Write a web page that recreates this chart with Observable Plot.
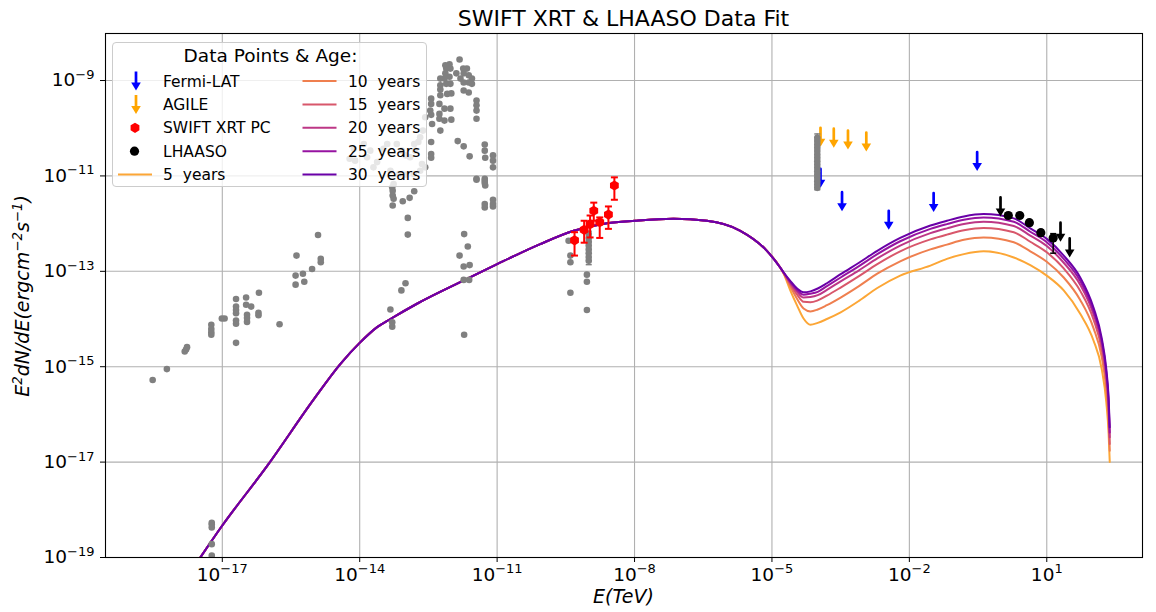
<!DOCTYPE html>
<html><head><meta charset="utf-8">
<script src="https://cdn.jsdelivr.net/npm/d3@7"></script>
<script src="https://cdn.jsdelivr.net/npm/@observablehq/plot@0.6"></script>
<style>
html,body{margin:0;padding:0;background:#fff;}
#chart{width:1156px;height:612px;}
</style></head><body><div id="chart"></div>
<script>
// ---------- data (log10 values) ----------
const xTicks = [1e-17, 1e-14, 1e-11, 1e-8, 1e-5, 1e-2, 1e1];
const yTicks = [1e-19, 1e-17, 1e-15, 1e-13, 1e-11, 1e-9];

const ages = [5, 10, 15, 20, 25, 30];
const ageColors = ["#fca636", "#ef7f4f", "#d8576b", "#bd3786", "#9613a1", "#6a00a8"];

// synchrotron part, shared by all ages
const syncLogE = [-17.6, -17.0, -16.02, -15.0, -14.42, -13.99, -13.62, -13.33, -12.75, -11.66, -11.0, -10.06, -9.33, -8.6, -7.99, -7.15, -6.42, -5.69, -5.11, -4.82];
const syncLogF = [-19.17, -18.33, -17.08, -15.68, -14.94, -14.49, -14.17, -14.0, -13.68, -13.16, -12.85, -12.43, -12.15, -11.99, -11.94, -11.90, -11.94, -12.15, -12.57, -12.92];

// inverse-Compton part, per age
const icLogE = [-4.74, -4.6, -4.45, -4.31, -4.16, -4.0, -3.8, -3.5, -3.1, -2.7, -2.2, -1.54, -1.18, -0.81, -0.38, 0.28, 0.64, 1.0, 1.37, 1.73, 2.02, 2.2, 2.3, 2.35, 2.375];
const ic5  = [-13.06, -13.40, -13.72, -13.99, -14.12, -14.08, -14.00, -13.86, -13.62, -13.35, -13.09, -12.88, -12.74, -12.64, -12.58, -12.71, -12.87, -13.09, -13.40, -13.89, -14.45, -15.05, -15.75, -16.40, -17.0];
const ic10 = [-13.05, -13.32, -13.58, -13.78, -13.84, -13.80, -13.71, -13.55, -13.31, -13.05, -12.79, -12.54, -12.44, -12.34, -12.29, -12.39, -12.58, -12.80, -13.13, -13.60, -14.19, -14.80, -15.48, -16.11, -16.76];
const ic15 = [-13.04, -13.27, -13.49, -13.64, -13.65, -13.61, -13.51, -13.34, -13.10, -12.85, -12.58, -12.33, -12.23, -12.14, -12.09, -12.18, -12.38, -12.60, -12.94, -13.41, -14.01, -14.64, -15.30, -15.92, -16.62];
const ic20 = [-13.04, -13.24, -13.43, -13.55, -13.54, -13.50, -13.39, -13.21, -12.98, -12.73, -12.46, -12.20, -12.10, -12.01, -11.96, -12.05, -12.25, -12.47, -12.82, -13.28, -13.90, -14.53, -15.19, -15.80, -16.48];
const ic25 = [-13.03, -13.22, -13.39, -13.49, -13.47, -13.43, -13.31, -13.13, -12.89, -12.64, -12.37, -12.11, -12.01, -11.92, -11.87, -11.96, -12.17, -12.39, -12.74, -13.20, -13.83, -14.46, -15.12, -15.72, -16.38];
const ic30 = [-13.03, -13.20, -13.36, -13.44, -13.42, -13.36, -13.25, -13.06, -12.82, -12.57, -12.30, -12.04, -11.94, -11.85, -11.80, -11.89, -12.10, -12.32, -12.67, -13.13, -13.76, -14.40, -15.05, -15.65, -16.27];

// archival (grey) points
const archLogE = [-18.52,-18.21,-17.82,-17.79,-17.77,-17.24,-17.24,-17.24,-17.24,-17.01,-16.95,-16.70,-16.70,-16.70,-16.70,-16.70,-16.70,-16.70,-16.48,-16.48,-16.37,-16.46,-16.46,-16.46,-16.20,-16.21,-16.21,-15.75,-15.38,-15.40,-15.40,-15.24,-15.21,-15.04,-14.91,-14.85,-14.85,
 -17.23,-17.23,-17.23,-17.23,-17.23,
 -13.00,-13.09,-13.33,-13.29,-13.29,-11.72,-11.64,-11.82,-11.73,-11.60,-11.73,-11.61,-11.72,
 -13.29,-13.28,-13.28,-13.26,-13.28,-13.06,-12.91,-12.81,-12.95,-12.95,-11.45,-11.27,-11.27,-11.26,-11.27,-11.27,-11.09,-11.09,-11.09,
 -11.82,-12.13,-12.04,-12.11,-12.02,-12.13,-12.24,-12.15,-12.04,-11.89,-11.74,-11.66,-11.73,-11.62,-11.80,-11.73,-11.62,-11.55,-11.55,-12.24,-12.11,-12.02,-12.24,-12.09,-12.00,-12.24,-11.73,-11.62,
 -12.44,-12.44,-12.46,-12.44,-12.26,-12.15,-12.02,-12.26,-12.26,-12.15,-12.00,-12.42,-12.24,-11.45,-11.45,-11.45,-11.45,-11.86,-11.73,-11.60,-12.44,-12.44,-12.44,-11.27,-11.27,-11.26,-11.09,-11.09,-11.09,-11.45,-11.27,
 -12.57,-12.62,-12.68,-12.72,-12.81,-12.79,-12.90,-13.00,-13.08,-13.19,-13.40,-13.48,-13.77,-13.91,-14.13,-14.22,-14.10,-13.84,-13.62,-13.70,-13.33,-13.26,-13.15,-13.00,-12.82,-12.68,-12.57,-12.64,
 -9.44,-9.40,-9.40,-9.04,-9.04,-9.40,-9.04,
 -9.00,-9.00,-9.00,-9.00,-9.00,-9.00,-9.00,-9.00,
 -4.01,-4.01,-4.01,-4.01,-4.01,-4.01,-4.01,-4.01,-4.01,-4.01,-4.01,-4.01,-4.01,-4.01,-4.01,-4.01];
const archLogF = [-15.28,-15.05,-14.68,-14.64,-14.59,-14.12,-14.21,-14.28,-14.33,-13.99,-13.99,-13.58,-13.74,-13.81,-13.88,-14.03,-14.10,-14.50,-13.55,-13.70,-13.74,-13.91,-13.98,-14.06,-13.45,-13.87,-13.92,-14.11,-12.67,-13.09,-13.28,-13.05,-13.22,-12.95,-12.24,-12.74,-12.81,
 -18.27,-18.31,-18.37,-18.72,-18.96,
 -13.25,-13.40,-13.80,-14.07,-14.16,-12.22,-12.48,-12.67,-12.90,-12.87,-13.18,-13.18,-14.33,
 -11.24,-11.31,-11.41,-11.48,-11.62,-11.53,-11.46,-11.32,-11.88,-12.23,-11.08,-11.10,-11.15,-11.20,-11.59,-11.66,-11.50,-11.59,-11.64,
 -8.56,-8.68,-8.66,-8.75,-8.75,-8.85,-8.96,-8.96,-8.92,-8.85,-8.75,-8.75,-8.85,-8.89,-8.96,-9.04,-9.04,-8.96,-9.07,-9.10,-9.07,-9.07,-9.19,-9.28,-9.27,-9.31,-9.21,-9.25,
 -9.38,-9.49,-9.63,-9.72,-9.49,-9.59,-9.59,-9.70,-9.80,-9.84,-9.82,-9.91,-10.05,-9.42,-9.52,-9.63,-9.80,-10.27,-10.38,-10.59,-10.29,-10.54,-10.62,-10.34,-10.47,-10.62,-10.57,-10.68,-10.82,-11.06,-11.06,
 -9.77,-10.05,-10.19,-10.29,-10.33,-10.47,-10.61,-10.57,-10.47,-10.33,-10.33,-10.43,-10.47,-10.33,-10.43,-10.64,-10.68,-10.61,-10.71,-10.82,-10.89,-11.17,-10.97,-10.97,-10.96,-10.89,-10.82,-10.75,
 -12.36,-12.67,-12.81,-13.07,-13.22,-13.45,-13.81,
 -12.22,-12.30,-12.38,-12.46,-12.54,-12.62,-12.70,-12.78,
 -10.20,-10.27,-10.34,-10.41,-10.48,-10.55,-10.62,-10.69,-10.76,-10.83,-10.90,-10.97,-11.04,-11.11,-11.18,-11.25];
const archErrLogE = [-9.00, -4.01];
const archErrLo   = [-12.86, -11.29];
const archErrHi   = [-12.16, -10.12];

// SWIFT XRT PC
const swiftLogE = [-9.31, -9.10, -8.97, -8.89, -8.76, -8.57, -8.44];
const swiftLogF = [-12.35, -12.13, -12.01, -11.73, -11.97, -11.81, -11.20];
const swiftLo   = [-12.67, -12.40, -12.29, -11.94, -12.30, -12.11, -11.50];
const swiftHi   = [-12.18, -11.94, -11.83, -11.56, -11.87, -11.64, -11.03];

// LHAASO
const lhaasoLogE = [0.16, 0.41, 0.62, 0.87, 1.14];
const lhaasoLogF = [-11.83, -11.83, -11.98, -12.19, -12.30];
const lhaasoLo   = [-11.88, -11.88, -12.04, -12.26, -12.62];
const lhaasoHi   = [-11.78, -11.78, -11.93, -12.13, -12.21];
const lhaasoULLogE = [-0.01, 1.30, 1.50];
const lhaasoULLogF = [-11.45, -11.98, -12.31];

// Fermi-LAT and AGILE upper limits
const fermiLogE = [-3.94, -3.47, -2.45, -1.47, -0.52];
const fermiLogF = [-10.85, -11.34, -11.73, -11.36, -10.50];
const agileLogE = [-3.94, -3.65, -3.34, -2.94];
const agileLogF = [-9.99, -10.01, -10.05, -10.09];

// ---------- build ----------
const p = v => Math.pow(10, v);
const icByAge = [ic5, ic10, ic15, ic20, ic25, ic30];
const curves = ages.map((age, i) => ({
  age, color: ageColors[i],
  pts: syncLogE.map((e, j) => ({E: p(e), F: p(syncLogF[j])}))
    .concat(icLogE.map((e, j) => ({E: p(e), F: p(icByAge[i][j])})))
}));
const pts = (le, lf) => le.map((e, i) => ({E: p(e), F: p(lf[i])}));
const arch = pts(archLogE, archLogF);
const archErr = archErrLogE.map((e, i) => ({E: p(e), lo: p(archErrLo[i]), hi: p(archErrHi[i])}));
const swift = swiftLogE.map((e, i) => ({E: p(e), F: p(swiftLogF[i]), lo: p(swiftLo[i]), hi: p(swiftHi[i])}));
const lhaaso = lhaasoLogE.map((e, i) => ({E: p(e), F: p(lhaasoLogF[i]), lo: p(lhaasoLo[i]), hi: p(lhaasoHi[i])}));
const lhaasoUL = pts(lhaasoULLogE, lhaasoULLogF);
const fermi = pts(fermiLogE, fermiLogF);
const agile = pts(agileLogE, agileLogF);

const fmtPow = d => "10^" + Math.round(Math.log10(d));

const capSym = {draw(ctx, size) { const r = Math.sqrt(size / Math.PI); ctx.moveTo(-r, 0); ctx.lineTo(r, 0); }};
const triDown = {draw(ctx, size) { const s = Math.sqrt(size / Math.PI) / 4.8; ctx.moveTo(-4.8 * s, -3 * s); ctx.lineTo(4.8 * s, -3 * s); ctx.lineTo(0, 5 * s); ctx.closePath(); }};

function upperLimits(data, color) {
  return [
    Plot.vector(data, {x: "E", y: "F", length: 12, rotate: 180, anchor: "start", stroke: color, strokeWidth: 2.7, r: 0}),
    Plot.dot(data, {x: "E", y: "F", symbol: triDown, r: 4.8, fill: color, dy: 14})
  ];
}
function errorBars(data, color, w, capR) {
  return [
    Plot.ruleX(data, {x: "E", y1: "lo", y2: "hi", stroke: color, strokeWidth: w}),
    Plot.dot(data, {x: "E", y: "lo", symbol: capSym, r: capR, fill: "none", stroke: color, strokeWidth: w}),
    Plot.dot(data, {x: "E", y: "hi", symbol: capSym, r: capR, fill: "none", stroke: color, strokeWidth: w})
  ];
}

const plot = Plot.plot({
  width: 1156, height: 612,
  marginLeft: 105, marginRight: 14, marginTop: 33, marginBottom: 55,
  style: {fontFamily: "'DejaVu Sans', sans-serif", fontSize: "18.5px", background: "white", overflow: "visible"},
  x: {type: "log", domain: [p(-19.55), p(3.09)]},
  y: {type: "log", domain: [1e-19, p(-8.014)]},
  marks: [
    Plot.gridX(xTicks, {stroke: "#b0b0b0", strokeOpacity: 1, strokeWidth: 1.1}),
    Plot.gridY(yTicks, {stroke: "#b0b0b0", strokeOpacity: 1, strokeWidth: 1.1}),
    ...curves.map(c => Plot.line(c.pts, {x: "E", y: "F", stroke: c.color, strokeWidth: 2, curve: "monotone-x", clip: true})),
    ...upperLimits(fermi, "#0000ff"),
    ...upperLimits(agile, "#ffa500"),
    ...errorBars(archErr, "#808080", 1.5, 3),
    Plot.dot(arch, {x: "E", y: "F", r: 3.3, fill: "#808080", clip: true}),
    ...errorBars(swift, "#ff0000", 2, 3.5),
    Plot.dot(swift, {x: "E", y: "F", symbol: "hexagon", r: 4.4, fill: "#ff0000"}),
    ...errorBars(lhaaso, "#000000", 1.5, 3),
    Plot.dot(lhaaso, {x: "E", y: "F", r: 4.6, fill: "#000000"}),
    ...upperLimits(lhaasoUL, "#000000"),
    Plot.frame({stroke: "black", strokeWidth: 1.1}),
    Plot.axisX(xTicks, {tickFormat: fmtPow, tickSize: 5, tickPadding: 5, fontSize: 18.5, label: null}),
    Plot.axisY(yTicks, {tickFormat: fmtPow, tickSize: 5, tickPadding: 6, fontSize: 18.5, label: null})
  ]
});
document.getElementById("chart").appendChild(plot);

// ---------- tick labels as 10 + superscript ----------
const svg = d3.select(plot);
svg.selectAll("text").each(function () {
  const t = this.textContent;
  if (!t.startsWith("10^")) return;
  const ex = t.slice(3).replace("-", "\u2212");
  const sel = d3.select(this);
  sel.text("10");
  sel.append("tspan").attr("font-size", "13px").attr("dy", -7.5).text(ex);
});

// ---------- title, axis labels, legend ----------
const ff = "'DejaVu Sans', sans-serif";
svg.append("text").attr("x", 623.5).attr("y", 25.5).attr("text-anchor", "middle")
  .attr("font-family", ff).attr("font-size", 22).attr("fill", "black").text("SWIFT XRT & LHAASO Data Fit");
svg.append("text").attr("x", 623.5).attr("y", 603).attr("text-anchor", "middle")
  .attr("font-family", ff).attr("font-size", 19).attr("font-style", "italic").attr("fill", "black").text("E(TeV)");
const yl = svg.append("text").attr("transform", "translate(29,296) rotate(-90)").attr("text-anchor", "middle")
  .attr("font-family", ff).attr("font-size", 19).attr("font-style", "italic").attr("fill", "black");
const parts = [["E", 0], ["2", 1], ["dN/dE(ergcm", 0], ["\u22122", 1], ["s", 0], ["\u22121", 1], [")", 0]];
let prevSup = false;
for (const [t, sup] of parts) {
  const ts = yl.append("tspan").text(t);
  if (sup) { ts.attr("font-size", 13.3).attr("dy", prevSup ? 0 : -7.5); }
  else { ts.attr("dy", prevSup ? 7.5 : 0); }
  prevSup = !!sup;
}

const g = svg.append("g").attr("font-family", ff).attr("fill", "black").attr("text-anchor", "start");
g.append("rect").attr("x", 112.5).attr("y", 42.5).attr("width", 314).attr("height", 144).attr("rx", 3.5)
  .attr("fill", "white").attr("fill-opacity", 0.8).attr("stroke", "#cccccc").attr("stroke-width", 1);
g.append("text").attr("x", 270.5).attr("y", 61.5).attr("text-anchor", "middle").attr("font-size", 18.5).text("Data Points & Age:");
const rowY = [81, 104.5, 127.8, 151.2, 174.6];
function legArrow(x, yc, color) {
  const yTop = yc - 9.5;
  g.append("line").attr("x1", x).attr("x2", x).attr("y1", yTop).attr("y2", yTop + 12).attr("stroke", color).attr("stroke-width", 2.7);
  g.append("path").attr("d", `M${x - 4.8},${yTop + 11}L${x + 4.8},${yTop + 11}L${x},${yTop + 19}Z`).attr("fill", color);
}
function legText(x, yc, t) {
  g.append("text").attr("x", x).attr("y", yc + 5.6).attr("text-anchor", "start").attr("font-size", 15.5).style("white-space", "pre").text(t);
}
function legLine(x1, x2, yc, color) {
  g.append("line").attr("x1", x1).attr("x2", x2).attr("y1", yc).attr("y2", yc).attr("stroke", color).attr("stroke-width", 2);
}
legArrow(136, rowY[0], "#0000ff"); legText(163, rowY[0], "Fermi-LAT");
legArrow(136, rowY[1], "#ffa500"); legText(163, rowY[1], "AGILE");
{
  const cx = 135, cy = rowY[2], rx = 4.4, ry = rx * 1.1547, hy = ry / 2;
  g.append("path").attr("d", `M${cx},${cy + ry}L${cx + rx},${cy + hy}L${cx + rx},${cy - hy}L${cx},${cy - ry}L${cx - rx},${cy - hy}L${cx - rx},${cy + hy}Z`).attr("fill", "#ff0000");
}
legText(163, rowY[2], "SWIFT XRT PC");
g.append("circle").attr("cx", 134.5).attr("cy", rowY[3]).attr("r", 4.6).attr("fill", "#000000");
legText(163, rowY[3], "LHAASO");
legLine(118, 152, rowY[4], ageColors[0]); legText(163, rowY[4], ages[0] + "  years");
for (let i = 1; i < ages.length; i++) {
  legLine(302.5, 336.5, rowY[i - 1], ageColors[i]);
  legText(348, rowY[i - 1], ages[i] + "  years");
}
</script></body></html>
